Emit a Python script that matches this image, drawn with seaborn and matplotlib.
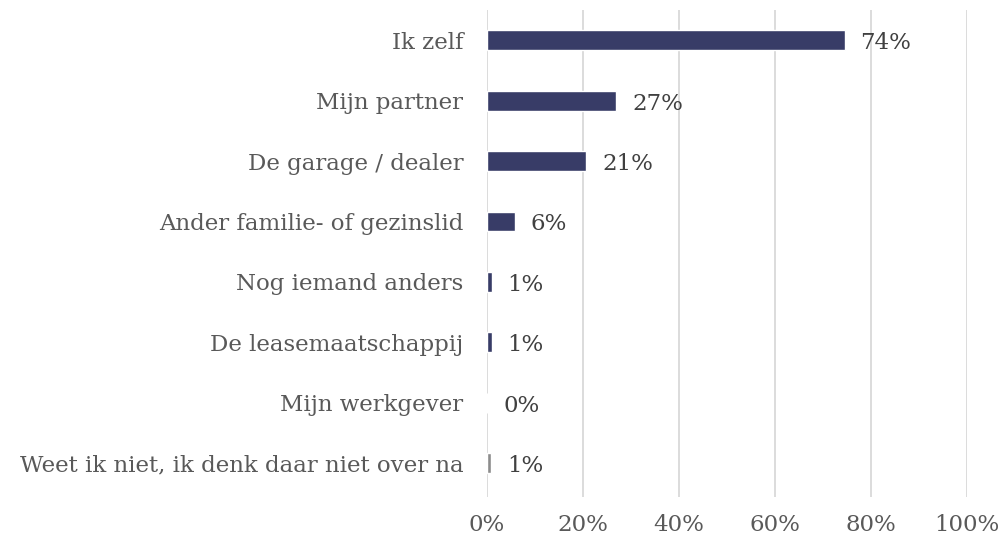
import pandas as pd
import matplotlib.pyplot as plt
import seaborn as sns

# Data
categories = ['Ik zelf', 'Mijn partner', 'De garage / dealer', 'Ander familie- of gezinslid',
              'Nog iemand anders', 'De leasemaatschappij', 'Mijn werkgever',
              'Weet ik niet, ik denk daar niet over na']
values = [74.5, 26.9, 20.7, 5.8, 1.0, 1.0, 0.1, 0.9]
labels = ['74%', '27%', '21%', '6%', '1%', '1%', '0%', '1%']
bar_colors = ['#383c67'] * 7 + ['#8c8c8c']

df = pd.DataFrame({'category': categories, 'value': values})

sns.set_style('white')
plt.rcParams['font.family'] = ['DejaVu Serif']

fig = plt.figure(figsize=(10.02, 5.36), dpi=100)
ax = fig.add_axes([487 / 1002, 1 - 497 / 536, 480 / 1002, 487 / 536])

sns.barplot(data=df, x='value', y='category', hue='category', palette=bar_colors,
            legend=False, width=0.33, ax=ax, saturation=1)

ax.set_xlim(0, 100)
ax.set_ylim(7.56, -0.5)
ax.set_xticks(range(0, 101, 20))
ax.set_xticklabels([f'{t}%' for t in range(0, 101, 20)])
ax.grid(axis='x', color='#d9d9d9', linewidth=1.3)
ax.set_axisbelow(True)
for s in ax.spines.values():
    s.set_visible(False)
ax.tick_params(axis='x', length=0, pad=12, labelsize=16.5, labelcolor='#595959')
ax.tick_params(axis='y', length=0, pad=17, labelsize=16.5, labelcolor='#595959')
ax.set_xlabel('')
ax.set_ylabel('')

for i, (v, lab) in enumerate(zip(values, labels)):
    ax.text(v + 3.3, i + 0.05, lab, va='center', ha='left', fontsize=16.5, color='#404040')

fig.savefig('out.png', dpi=100)
